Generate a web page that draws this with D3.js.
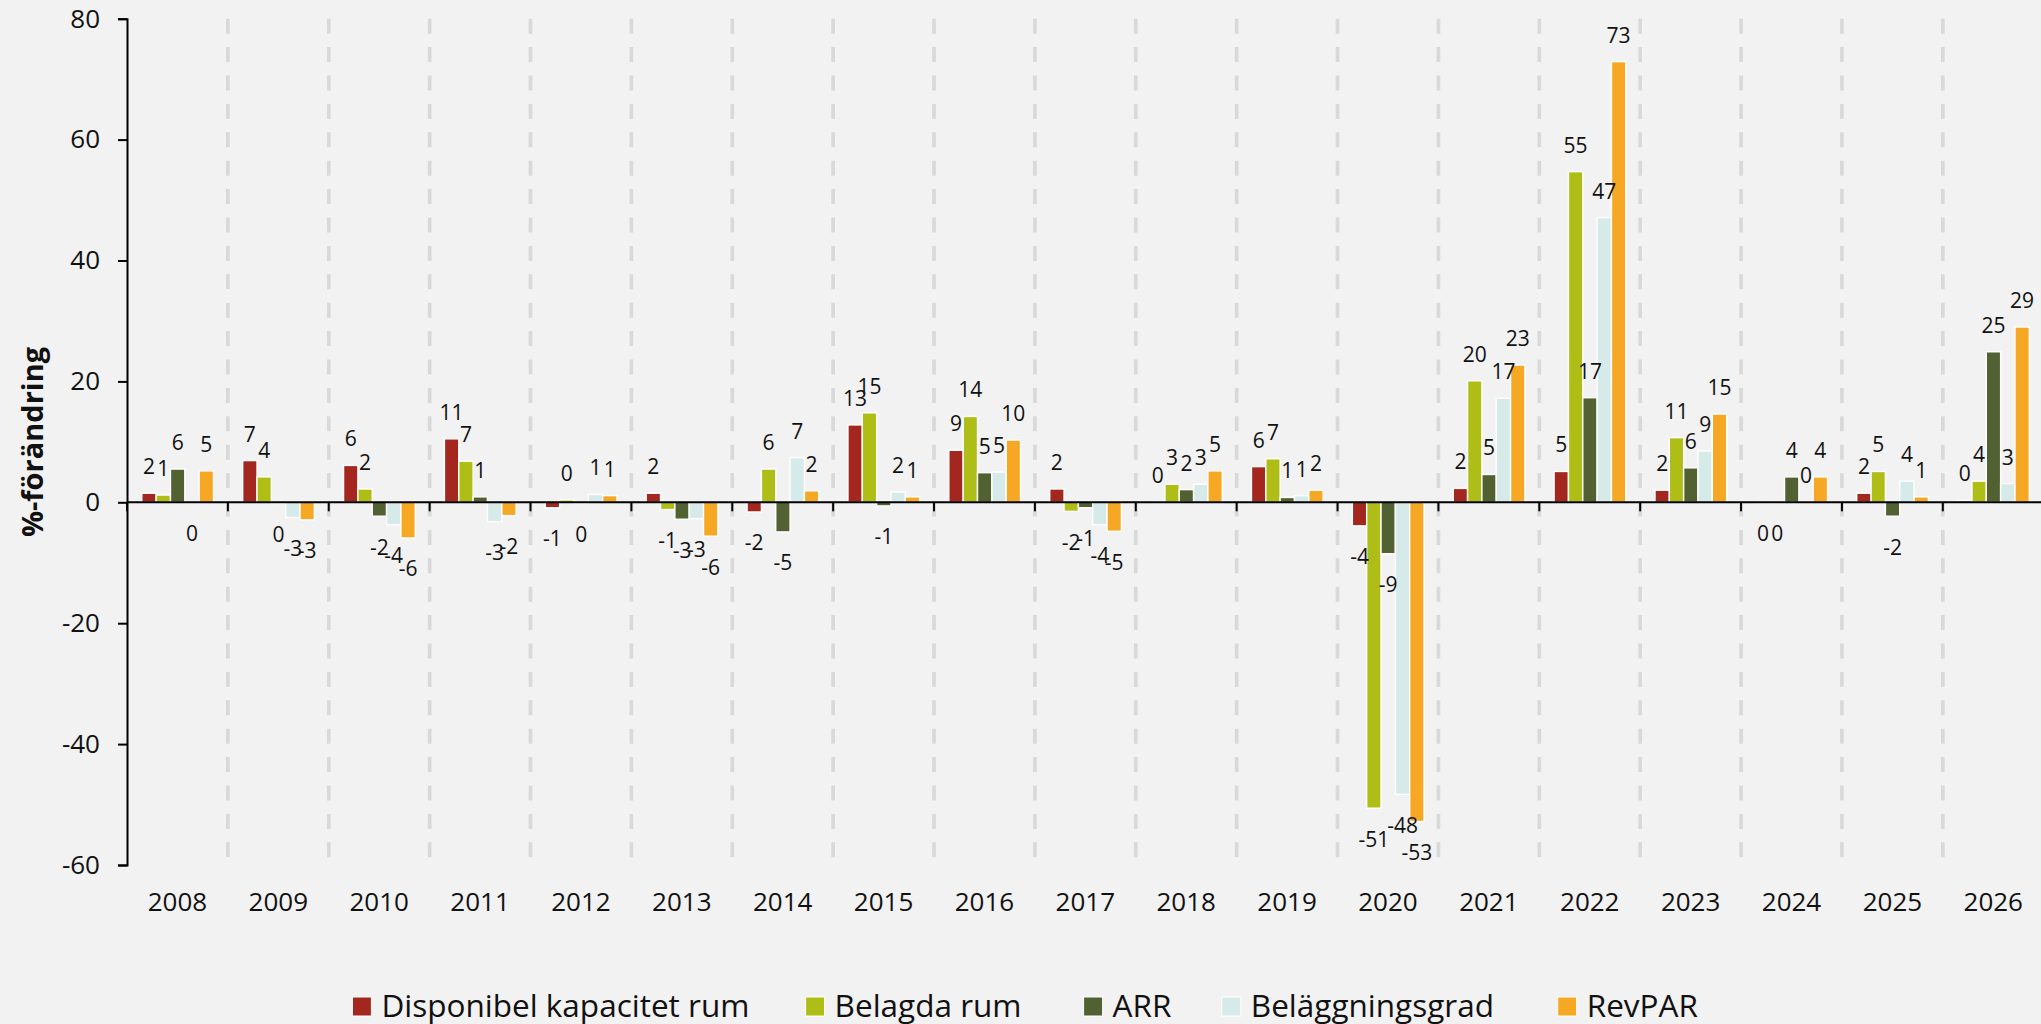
<!DOCTYPE html>
<html>
<head>
<meta charset="utf-8">
<title>Hotellmarknaden - %-förändring</title>
<script src="https://d3js.org/d3.v7.min.js"></script>
<style>
body { margin: 0; background: #f2f2f2; }
svg { display: block; font-family: 'Open Sans', sans-serif; }
</style>
</head>
<body>
<svg id="chart" width="2041" height="1024"></svg>
<script>
// data (% change per year)
const years = ['2008','2009','2010','2011','2012','2013','2014','2015','2016','2017',
               '2018','2019','2020','2021','2022','2023','2024','2025','2026'];
const seriesNames = ['Disponibel kapacitet rum', 'Belagda rum', 'ARR', 'Beläggningsgrad', 'RevPAR'];
const seriesColors = ['#a3261f', '#afbe17', '#526132', '#d6ebe9', '#f6a723'];

const kapacitet  = [1.5, 6.9, 6.1, 10.5, -0.9, 1.5, -1.6, 12.8, 8.6, 2.2, 0.1, 5.9, -3.9, 2.3, 5.1, 2.0, -0.1, 1.5, 0.3];
const belagda    = [1.2, 4.2, 2.2, 6.8, 0.4, -1.2, 5.5, 14.8, 14.2, -1.5, 3.0, 7.2, -50.6, 20.1, 54.7, 10.7, -0.1, 5.1, 3.5];
const arr        = [5.5, -0.2, -2.3, 0.9, -0.2, -2.8, -4.9, -0.6, 4.9, -0.9, 2.1, 0.8, -8.5, 4.6, 17.3, 5.7, 4.2, -2.3, 24.9];
const belaggning = [-0.1, -2.5, -3.7, -3.2, 1.3, -2.7, 7.4, 1.7, 5.0, -3.7, 3.0, 1.1, -48.3, 17.2, 47.1, 8.5, 0.1, 3.5, 3.1];
const revpar     = [5.2, -2.9, -5.9, -2.2, 1.1, -5.6, 1.9, 0.9, 10.3, -4.8, 5.2, 2.0, -52.8, 22.7, 72.9, 14.6, 4.2, 0.9, 29.0];

const yTicks = [-60, -40, -20, 0, 20, 40, 60, 80];

const allSeries = [kapacitet, belagda, arr, belaggning, revpar];
const data = years.map((yr, i) => ({
  year: yr,
  values: seriesNames.map((s, j) => ({ key: s, idx: j, value: allSeries[j][i] }))
}));

// excel style rounding (half away from zero)
function lbl(v) {
  const r = Math.sign(v) * Math.round(Math.abs(v));
  return r === 0 ? '0' : String(r);
}

const svg = d3.select('#chart');
const plotLeft = 127, plotRight = 2043.7, plotTop = 18.7, plotBottom = 865;

const x0 = d3.scaleBand().domain(years).range([plotLeft, plotRight]).padding(0);
const x1 = d3.scaleBand().domain(seriesNames).range([14.8, x0.bandwidth() - 14.4]).padding(0);
const y = d3.scaleLinear().domain([-60, 80]).range([plotBottom, plotTop]);

// dashed separators between years
svg.append('g')
  .selectAll('line')
  .data(years.slice(1))
  .join('line')
    .attr('x1', d => x0(d)).attr('x2', d => x0(d))
    .attr('y1', y(80)).attr('y2', y(-60))
    .style('stroke', '#d9d9d9')
    .style('stroke-width', 3.7)
    .style('stroke-dasharray', '15,13.4');

// bars
const groups = svg.append('g')
  .selectAll('g')
  .data(data)
  .join('g')
    .attr('transform', d => 'translate(' + x0(d.year) + ',0)');

groups.selectAll('rect')
  .data(d => d.values)
  .join('rect')
    .attr('x', d => x1(d.key))
    .attr('width', x1.bandwidth())
    .attr('y', d => y(Math.max(0, d.value)))
    .attr('height', d => Math.abs(y(d.value) - y(0)))
    .attr('fill', d => seriesColors[d.idx])
    .style('stroke', '#ffffff')
    .style('stroke-width', 1.4);

// value labels, drawn series by series so later ones sit on top
seriesNames.forEach((s, j) => {
  svg.append('g')
    .selectAll('text')
    .data(data.map(d => ({ year: d.year, value: d.values[j].value })))
    .join('text')
      .attr('x', d => x0(d.year) + x1(s) + x1.bandwidth() / 2)
      .attr('y', d => d.value >= 0 ? y(d.value) - 19 : y(d.value) + 38.5)
      .attr('text-anchor', 'middle')
      .style('font-size', '21px')
      .style('fill', '#111')
      .text(d => lbl(d.value));
});

// zero line + small ticks at the year boundaries
svg.append('line')
  .attr('x1', plotLeft).attr('x2', plotRight)
  .attr('y1', y(0)).attr('y2', y(0))
  .style('stroke', '#000').style('stroke-width', 2);
svg.append('g')
  .selectAll('line')
  .data(years)
  .join('line')
    .attr('x1', d => x0(d)).attr('x2', d => x0(d))
    .attr('y1', y(0)).attr('y2', y(0) + 9)
    .style('stroke', '#000').style('stroke-width', 2);

// y axis (plain hyphen for negatives, like the original)
const yAxis = svg.append('g')
  .attr('transform', 'translate(' + plotLeft + ',0)')
  .call(d3.axisLeft(y).tickValues(yTicks).tickFormat(d => String(d)).tickSize(9).tickPadding(18));
yAxis.select('.domain').style('stroke', '#000').style('stroke-width', 2);
yAxis.selectAll('.tick line').style('stroke', '#000').style('stroke-width', 2);
yAxis.selectAll('text')
  .style('font-family', "'Open Sans', sans-serif")
  .style('font-size', '26px')
  .style('fill', '#111');

// year labels under the plot
const xAxis = svg.append('g')
  .attr('transform', 'translate(0,' + plotBottom + ')')
  .call(d3.axisBottom(x0).tickSize(0).tickPadding(28));
xAxis.select('.domain').remove();
xAxis.selectAll('text')
  .style('font-family', "'Open Sans', sans-serif")
  .style('font-size', '26px')
  .style('fill', '#111');

// axis title
svg.append('text')
  .attr('transform', 'translate(43,442) rotate(-90)')
  .attr('text-anchor', 'middle')
  .style('font-size', '29px')
  .style('font-weight', 'bold')
  .style('fill', '#111')
  .text('%-förändring');

// legend
const legendX = [352.4, 805.6, 1083.6, 1221.8, 1557.7];
const legend = svg.append('g')
  .selectAll('g')
  .data(seriesNames)
  .join('g')
    .attr('transform', (d, i) => 'translate(' + legendX[i] + ',997)');
legend.append('rect')
  .attr('width', 19).attr('height', 19)
  .attr('fill', (d, i) => seriesColors[i])
  .style('stroke', '#ffffff').style('stroke-width', 1);
legend.append('text')
  .attr('x', 29).attr('y', 19.5)
  .style('font-size', '31.5px')
  .style('fill', '#111')
  .text(d => d);
</script>
</body>
</html>
